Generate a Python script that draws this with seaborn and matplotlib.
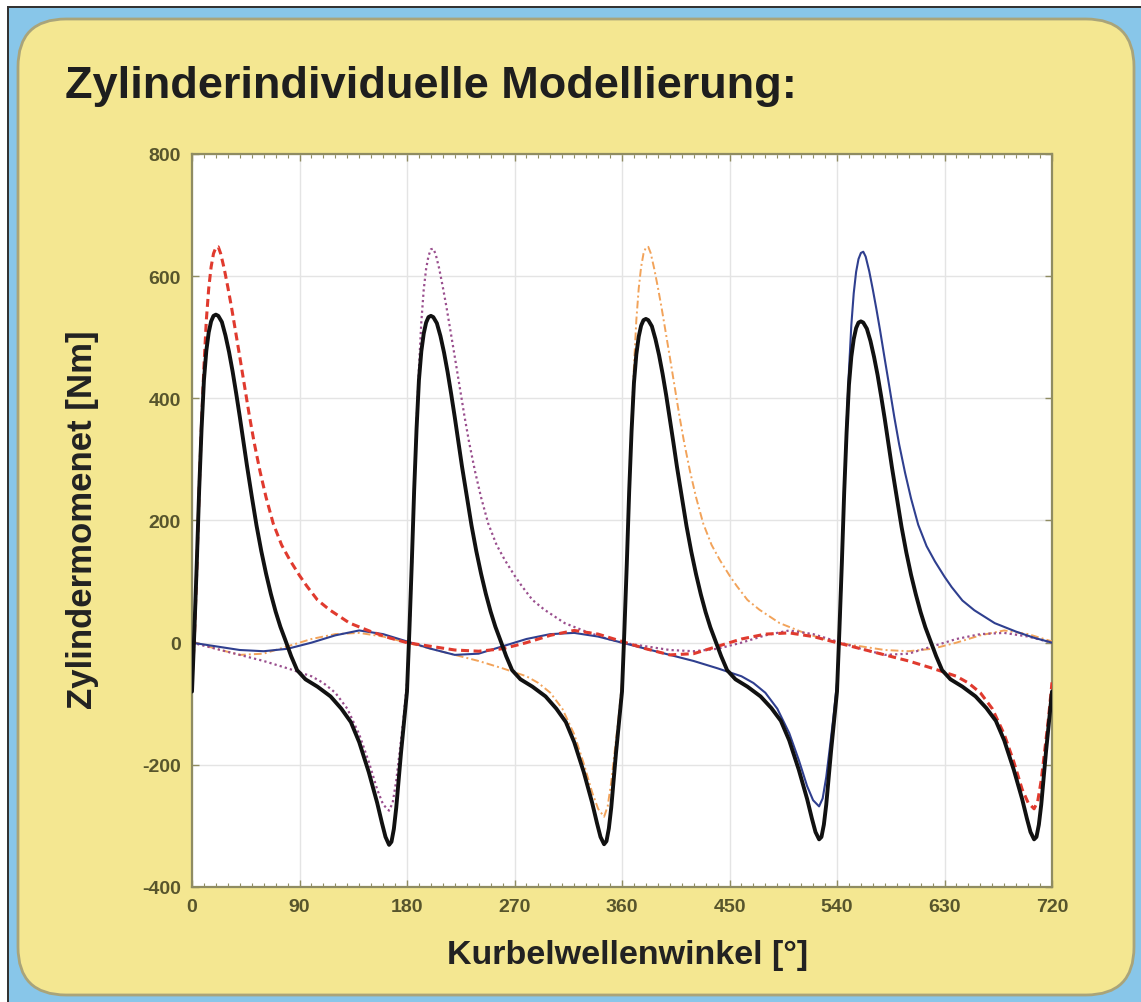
import numpy as np
import pandas as pd
import matplotlib
matplotlib.use("Agg")
import matplotlib.pyplot as plt
import seaborn as sns
from matplotlib.patches import FancyBboxPatch, Rectangle
from matplotlib.transforms import IdentityTransform
from matplotlib.ticker import MultipleLocator

# ---------------- data ----------------
title = "Zylinderindividuelle Modellierung:"
x_label = "Kurbelwellenwinkel [°]"
y_label = "Zylindermomenet [Nm]"
x_ticks = [0, 90, 180, 270, 360, 450, 540, 630, 720]
y_ticks = [-400, -200, 0, 200, 400, 600, 800]

# black: resulting torque (thick solid)
black_ang = [0, 2, 4, 6, 8, 10, 12, 14, 16, 18, 20, 22, 25, 28, 31, 34, 37, 40, 43, 46, 50, 54, 58, 62, 66, 70, 74, 78, 83, 88, 95, 105, 116, 125, 133, 140, 148, 155, 159, 162, 165, 167, 169, 171, 173, 175, 177, 179,
             180, 182, 184, 186, 188, 190, 192, 194, 196, 198, 200, 202, 205, 208, 211, 214, 217, 220, 223, 226, 230, 234, 238, 242, 246, 250, 254, 258, 263, 268, 275, 285, 296, 305, 313, 320, 328, 335, 339, 342, 345, 347, 349, 351, 353, 355, 357, 359,
             360, 362, 364, 366, 368, 370, 372, 374, 376, 378, 380, 382, 385, 388, 391, 394, 397, 400, 403, 406, 410, 414, 418, 422, 426, 430, 434, 438, 443, 448, 455, 465, 476, 485, 493, 500, 508, 515, 519, 522, 525, 527, 529, 531, 533, 535, 537, 539,
             540, 542, 544, 546, 548, 550, 552, 554, 556, 558, 560, 562, 565, 568, 571, 574, 577, 580, 583, 586, 590, 594, 598, 602, 606, 610, 614, 618, 623, 628, 635, 645, 656, 665, 673, 680, 688, 695, 699, 702, 705, 707, 709, 711, 713, 715, 717, 719, 720]
black_val = [-80, 20, 130, 250, 350, 430, 478, 508, 526, 535, 537, 535, 525, 503, 476, 444, 408, 370, 330, 290, 240, 192, 150, 113, 80, 51, 26, 5, -22, -45, -60, -72, -88, -108, -130, -163, -212, -262, -295, -318, -331, -326, -305, -270, -225, -180, -140, -100,
             -80, 20, 130, 250, 350, 430, 477, 506, 524, 533, 535, 533, 523, 502, 475, 443, 407, 369, 329, 289, 240, 192, 150, 113, 80, 51, 26, 5, -22, -45, -60, -72, -88, -108, -130, -163, -212, -262, -295, -318, -330, -325, -304, -270, -225, -180, -140, -100,
             -80, 20, 128, 247, 346, 425, 472, 501, 519, 528, 530, 528, 518, 497, 471, 440, 405, 367, 328, 288, 239, 191, 149, 112, 79, 50, 25, 4, -22, -45, -60, -72, -88, -107, -128, -160, -208, -256, -288, -310, -322, -318, -298, -265, -222, -178, -139, -100,
             -80, 20, 127, 245, 343, 422, 468, 497, 515, 524, 526, 524, 514, 494, 468, 438, 403, 366, 327, 287, 238, 190, 148, 111, 79, 50, 25, 4, -22, -45, -60, -72, -88, -107, -128, -160, -208, -256, -288, -310, -322, -318, -298, -265, -222, -178, -139, -100, -80]

# red dashed: cylinder 1
red_ang = [0, 2, 4, 6, 8, 10, 12, 14, 16, 18, 20, 22, 24, 27, 30, 33, 36, 40, 44, 48, 52, 57, 62, 68, 75, 82, 90, 96, 105, 115, 132, 150, 165, 180,
           200, 220, 240, 260, 280, 300, 320, 340, 360, 380, 400, 420, 440, 460, 480, 500, 520, 540, 560, 580, 600, 620, 640, 650, 660, 670, 680, 688, 695, 700, 705, 708, 711, 714, 717, 720]
red_val = [-65, 10, 120, 250, 360, 452, 528, 580, 615, 637, 647, 648, 637, 612, 582, 550, 515, 468, 420, 372, 328, 280, 238, 195, 160, 135, 110, 93, 70, 54, 32, 18, 8, 0,
           -6, -12, -14, -10, 0, 12, 20, 14, 2, -10, -20, -18, -6, 6, 14, 16, 10, 0, -10, -20, -30, -42, -55, -66, -82, -108, -150, -195, -240, -262, -272, -260, -225, -175, -125, -65]

# purple dotted: cylinder 2
purple_ang = [0, 20, 40, 60, 80, 100, 110, 120, 130, 140, 148, 155, 160, 165, 168, 171, 174, 177, 180,
              182, 184, 186, 188, 190, 192, 194, 196, 198, 200, 202, 204, 207, 210, 213, 216, 220, 224, 228, 232, 237, 242, 248, 255, 262, 270, 276, 285, 295, 312, 330, 345, 360,
              380, 400, 420, 440, 460, 480, 500, 520, 540, 560, 580, 600, 620, 640, 660, 680, 700, 720]
purple_val = [0, -10, -20, -30, -42, -55, -66, -82, -108, -150, -195, -240, -265, -275, -262, -226, -176, -125, -65,
              10, 120, 250, 360, 450, 525, 578, 612, 633, 644, 645, 636, 612, 582, 550, 515, 468, 420, 372, 328, 280, 238, 195, 160, 135, 110, 93, 70, 54, 32, 18, 8, 0,
              -6, -12, -14, -10, 0, 12, 20, 14, 2, -10, -20, -18, -6, 6, 14, 16, 10, 0]

# orange dash-dot: cylinder 3
orange_ang = [0, 20, 40, 60, 80, 100, 120, 140, 160, 180, 200, 220, 240, 260, 280, 290, 300, 310, 320, 328, 335, 340, 345, 348, 351, 354, 357, 360,
              362, 364, 366, 368, 370, 372, 374, 376, 378, 380, 382, 384, 387, 390, 393, 396, 400, 404, 408, 412, 417, 422, 428, 435, 442, 450, 456, 465, 475, 492, 510, 525, 540,
              560, 580, 600, 620, 640, 660, 680, 700, 720]
orange_val = [2, -10, -20, -18, -6, 6, 14, 16, 10, 0, -10, -20, -30, -42, -55, -66, -82, -108, -150, -198, -245, -272, -285, -268, -228, -176, -125, -65,
              10, 120, 250, 360, 452, 528, 580, 615, 637, 647, 648, 638, 612, 582, 550, 515, 468, 420, 372, 328, 280, 238, 195, 160, 135, 110, 93, 70, 54, 32, 18, 8, 0,
              -6, -12, -14, -10, 0, 12, 20, 14, 2]

# blue solid: cylinder 4
blue_ang = [0, 20, 40, 60, 80, 100, 120, 140, 160, 180, 200, 220, 240, 260, 280, 300, 320, 340, 360, 380, 400, 420, 440, 460, 470, 480, 490, 500, 508, 515, 520, 525, 528, 531, 534, 537, 540,
            542, 544, 546, 548, 550, 552, 554, 556, 558, 560, 562, 564, 567, 570, 573, 576, 580, 584, 588, 592, 597, 602, 608, 615, 622, 630, 636, 645, 655, 672, 690, 705, 720]
blue_val = [0, -6, -12, -14, -10, 0, 12, 20, 14, 2, -10, -20, -18, -6, 6, 14, 16, 10, 0, -10, -20, -30, -42, -55, -66, -82, -108, -148, -192, -235, -258, -268, -255, -220, -172, -122, -65,
            10, 118, 245, 355, 445, 520, 572, 607, 628, 638, 640, 632, 608, 578, 546, 512, 464, 417, 369, 325, 278, 236, 193, 158, 133, 108, 91, 69, 53, 32, 18, 8, 0]

# ---------------- styling ----------------
sns.set_theme(style="whitegrid")
plt.rcParams['font.family'] = ['Liberation Sans', 'DejaVu Sans']
plt.rcParams['axes.unicode_minus'] = False

W, H = 1141, 1003
fig = plt.figure(figsize=(W / 100, H / 100), dpi=100)
fig.patch.set_facecolor('#88c6e9')

ident = IdentityTransform()
# white margin top/left and thin dark frame
fig.patches.append(Rectangle((0, H - 7), W, 7, transform=ident, facecolor='white', edgecolor='none', zorder=-5))
fig.patches.append(Rectangle((0, 0), 7, H, transform=ident, facecolor='white', edgecolor='none', zorder=-5))
fig.patches.append(Rectangle((7, H - 8.5), W, 1.5, transform=ident, facecolor='#333333', edgecolor='none', zorder=-4))
fig.patches.append(Rectangle((7, 0), 1.5, H - 7, transform=ident, facecolor='#333333', edgecolor='none', zorder=-4))
# yellow rounded panel
panel = FancyBboxPatch((18, 7), 1116, 976, boxstyle="round,pad=0,rounding_size=48",
                       transform=ident, facecolor='#f4e791', edgecolor='#a9a47a', linewidth=2, zorder=-3)
fig.patches.append(panel)

ax = fig.add_axes([192 / W, 1 - 888 / H, 860 / W, 733 / H])
ax.set_facecolor('white')

series = [
    (orange_ang, orange_val, dict(color='#f2a35a', linewidth=1.4, linestyle=(0, (4, 1.6, 1, 1.6)), zorder=3)),
    (purple_ang, purple_val, dict(color='#9a4f8e', linewidth=1.6, linestyle=(0, (1, 1.4)), zorder=3)),
    (blue_ang, blue_val, dict(color='#2f3f8f', linewidth=1.5, linestyle='-', zorder=3)),
    (red_ang, red_val, dict(color='#e03a2e', linewidth=2.2, linestyle=(0, (2.6, 1.5)), zorder=4)),
    (black_ang, black_val, dict(color='#111111', linewidth=2.8, linestyle='-', zorder=5)),
]
for ang, val, kw in series:
    df = pd.DataFrame({'angle': ang, 'torque': val})
    sns.lineplot(data=df, x='angle', y='torque', ax=ax, estimator=None, sort=False,
                 legend=False, **kw)

ax.set_xlim(0, 720)
ax.set_ylim(-400, 800)
ax.set_xticks(x_ticks)
ax.set_yticks(y_ticks)
ax.xaxis.set_minor_locator(MultipleLocator(10))
ax.set_xlabel('')
ax.set_ylabel('')
ax.grid(True, which='major', color='#e4e4e4', linewidth=1.0)
ax.grid(False, which='minor')

spine_col = '#8f8c62'
for s in ax.spines.values():
    s.set_visible(True)
    s.set_color(spine_col)
    s.set_linewidth(1.6)

ax.tick_params(axis='both', which='major', direction='in', length=5, width=1, color=spine_col,
               labelsize=14, labelcolor='#57552c', pad=8, top=True, right=True, bottom=True, left=True)
ax.tick_params(axis='x', which='minor', direction='in', length=3, width=0.8, color=spine_col,
               top=True, bottom=True)
for lab in ax.get_xticklabels() + ax.get_yticklabels():
    lab.set_fontweight('bold')

fig.text(65 / W, 1 - 98 / H, title, fontsize=32.5, fontweight='bold', color='#1e1e1e',
         ha='left', va='baseline')
fig.text(628 / W, 1 - 956 / H, x_label, fontsize=24.5, fontweight='bold', color='#222222',
         ha='center', va='center')
fig.text(83 / W, 1 - 520 / H, y_label, fontsize=25, fontweight='bold', color='#222222',
         ha='center', va='center', rotation=90)

fig.savefig('out.png', dpi=100, facecolor=fig.get_facecolor())
